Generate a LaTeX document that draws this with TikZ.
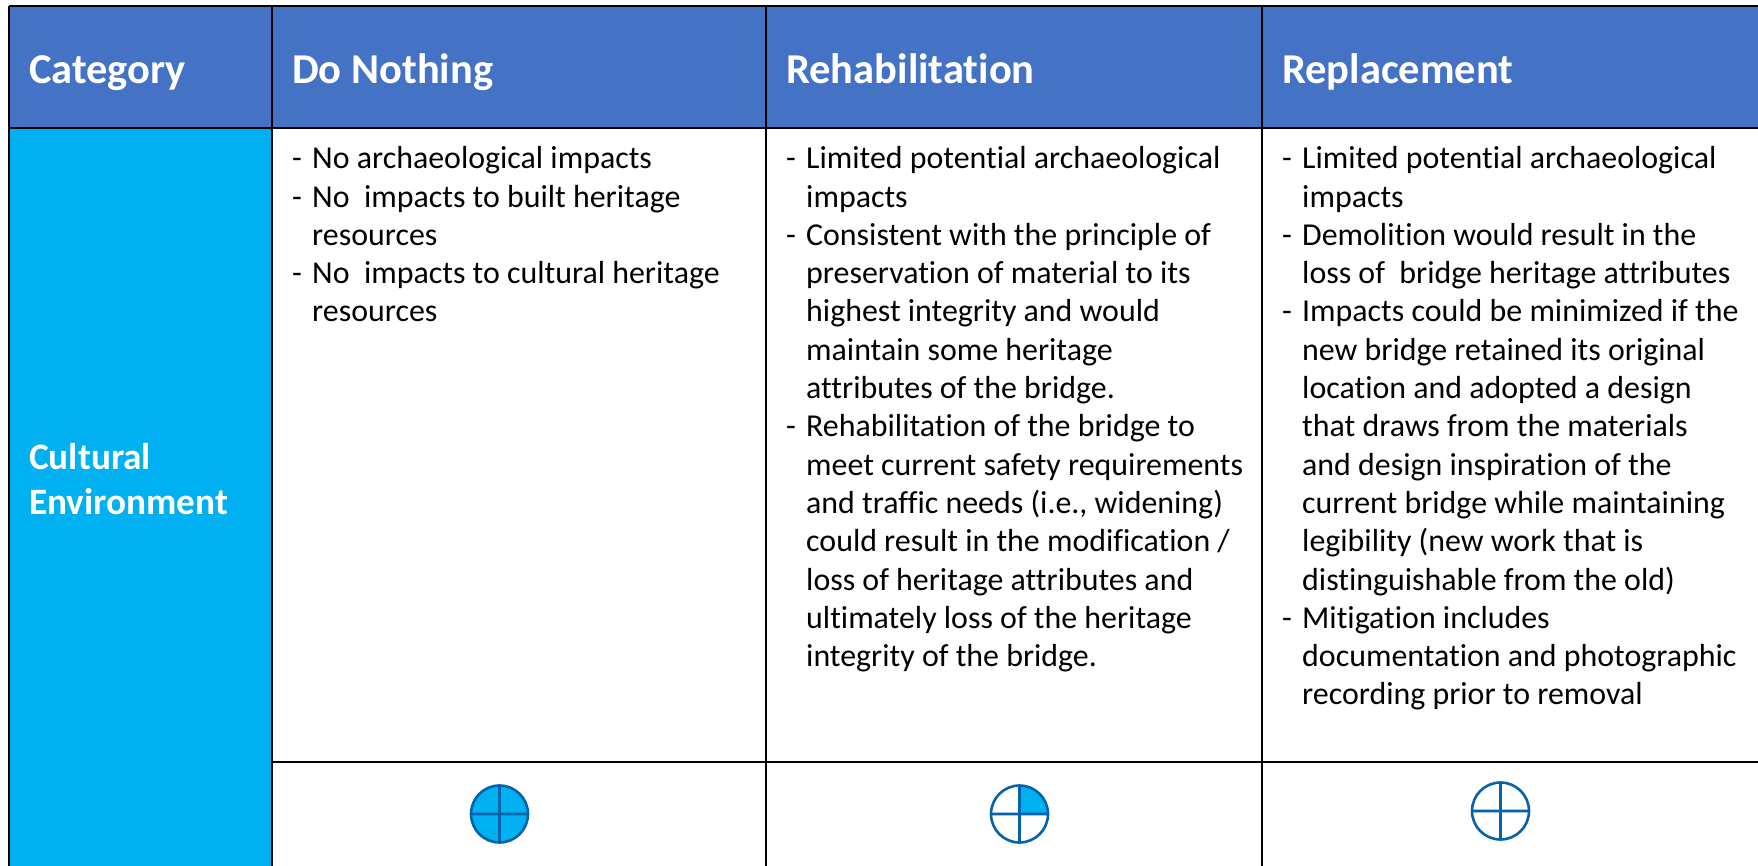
\documentclass[tikz,border=0pt]{standalone}
\usepackage{fontspec}
\setmainfont{Carlito}[Ligatures=CommonOff]
\definecolor{headblue}{HTML}{4472C4}
\definecolor{catblue}{HTML}{00B0F0}
\definecolor{ballline}{HTML}{0563AD}
\newcommand{\dashitem}{\makebox[20pt][l]{-}}
\newcommand{\hang}{\hspace*{20pt}}
\tikzset{
  gridline/.style={draw=black,line width=2.8pt},
  headtext/.style={anchor=base west,inner sep=0pt,text=white,font=\fontsize{42.5}{50}\selectfont\bfseries},
  celltext/.style={anchor=north west,inner sep=0pt,align=left,text=black,font=\fontsize{31.9}{38.3}\selectfont},
  ball/.style={draw=ballline,line width=2.6pt},
}
\begin{document}
\begin{tikzpicture}[x=1pt,y=-1pt]
\useasboundingbox (0,0) rectangle (1758,866);
\fill[white] (0,0) rectangle (1758,866);
\fill[headblue] (9,6) rectangle (1758,128);
\fill[catblue] (9,128) rectangle (272,866);
\draw[gridline] (9,6) -- (1758,6);
\draw[gridline] (9,128) -- (1758,128);
\draw[gridline] (272,762) -- (1758,762);
\draw[gridline] (9,6) -- (9,866);
\draw[gridline] (272,6) -- (272,866);
\draw[gridline] (766,6) -- (766,866);
\draw[gridline] (1262,6) -- (1262,866);
\node[headtext] (h1) at (29,83.5) {Category};
\node[headtext] (h2) at (292,83.5) {Do Nothing};
\node[headtext] (h3) at (786,83.5) {Rehabilitation};
\node[headtext] (h4) at (1282,83.5) {Replacement};
\node[celltext,anchor=west,font=\fontsize{37.3}{45.5}\selectfont\bfseries,text=white] (cat) at (29,479) {Cultural\\Environment};
\node[celltext] (c1) at (292,146.4) {\dashitem No archaeological impacts\\
\dashitem No\ \ impacts to built heritage\\
\hang resources\\
\dashitem No\ \ impacts to cultural heritage\\
\hang resources};
\node[celltext] (c2) at (786,146.4) {\dashitem Limited potential archaeological\\
\hang impacts\\
\dashitem Consistent with the principle of\\
\hang preservation of material to its\\
\hang highest integrity and would\\
\hang maintain some heritage\\
\hang attributes of the bridge.\\
\dashitem Rehabilitation of the bridge to\\
\hang meet current safety requirements\\
\hang and traffic needs (i.e., widening)\\
\hang could result in the modification /\\
\hang loss of heritage attributes and\\
\hang ultimately loss of the heritage\\
\hang integrity of the bridge.};
\node[celltext] (c3) at (1282,146.4) {\dashitem Limited potential archaeological\\
\hang impacts\\
\dashitem Demolition would result in the\\
\hang loss of\ \ bridge heritage attributes\\
\dashitem Impacts could be minimized if the\\
\hang new bridge retained its original\\
\hang location and adopted a design\\
\hang that draws from the materials\\
\hang and design inspiration of the\\
\hang current bridge while maintaining\\
\hang legibility (new work that is\\
\hang distinguishable from the old)\\
\dashitem Mitigation includes\\
\hang documentation and photographic\\
\hang recording prior to removal};
% Harvey balls
\fill[catblue] (499.5,814) circle (28.5);
\draw[ball] (499.5,814) circle (28.5) (471,814) -- (528,814) (499.5,785.5) -- (499.5,842.5);
\fill[catblue] (1019.5,814) -- (1048,814) arc[start angle=0,end angle=-90,radius=28.5] -- cycle;
\draw[ball] (1019.5,814) circle (28.5) (991,814) -- (1048,814) (1019.5,785.5) -- (1019.5,842.5);
\draw[ball] (1500.5,811) circle (28.5) (1472,811) -- (1529,811) (1500.5,782.5) -- (1500.5,839.5);
\end{tikzpicture}
\end{document}
